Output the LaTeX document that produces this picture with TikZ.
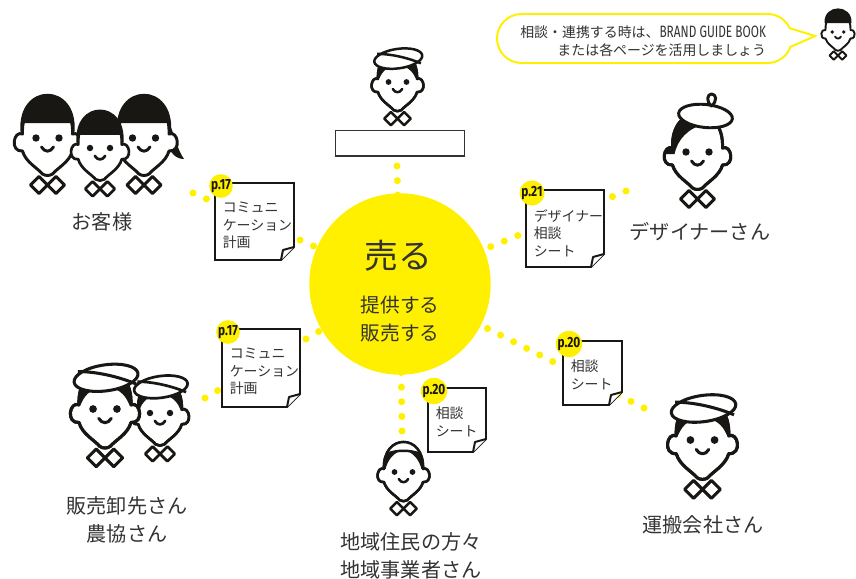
\documentclass[tikz,border=0pt]{standalone}
\usepackage{fontspec}
\setmainfont{Noto Sans CJK JP}
\newfontfamily\condfont[FakeStretch=0.72]{Fira Sans}
\newfontfamily\pagefont[FakeStretch=0.8]{Fira Sans}
\usetikzlibrary{backgrounds}
\definecolor{sunyellow}{rgb}{1.0, 0.94, 0.0}
\definecolor{ink}{rgb}{0.2, 0.2, 0.2}
\definecolor{faceink}{rgb}{0.1, 0.09, 0.08}

\tikzset{
  spoke/.style={draw=sunyellow, line width=5pt, line cap=round, dash pattern=on 0pt off 10.4pt},
  who/.style={text=ink, align=center, font=\fontsize{14.3}{20}\selectfont},
  memoline/.style={draw=faceink, fill=white, line width=1.4pt},
  memotext/.style={anchor=north west, inner sep=0pt, text=ink, align=left, font=\fontsize{9.9}{12.4}\selectfont},
  badge/.style={circle, fill=sunyellow, minimum size=16.3pt, inner sep=0pt, text=faceink, font=\pagefont\bfseries\fontsize{10.5}{10.5}\selectfont},
  person/.style={scale=#1, transform shape, line width={0.6pt+1.5pt*#1}, color=faceink, line join=round},
  headshape/.style={insert path={(-25,-4) .. controls (-27,-50) and (27,-50) .. (25,-4)
      .. controls (34,-8) and (38,14) .. (25,13)
      .. controls (22,24) and (10,30) .. (5,36)
      .. controls (2,38) and (-2,38) .. (-5,36)
      .. controls (-10,30) and (-22,24) .. (-25,13)
      .. controls (-38,14) and (-34,-8) .. (-25,-4) -- cycle}},
  % bare head: collar, outline, eyes, smile
  face/.pic={
    \filldraw[fill=white] (-8.5,38.5) -- (0,47) -- (-8.5,55.5) -- (-17,47) -- cycle
                          (8.5,38.5) -- (17,47) -- (8.5,55.5) -- (0,47) -- cycle;
    \filldraw[fill=white, headshape];
    \fill (-11.5,0) circle[radius=3.7] (11.5,0) circle[radius=3.7];
    \draw[line cap=round] (-6,9) .. controls (-3,14.5) and (3,14.5) .. (6,9);
  },
  girl/.pic={
    \pic{face};
    \fill (-27,-6) .. controls (-31,-57) and (31,-57) .. (27,-6) -- (23,-15) -- (-23,-15) -- cycle;
  },
  girl tail/.pic={
    \fill (20,-24) .. controls (30,-10) and (31,8) .. (40,21) .. controls (32,21) and (26,15) .. (24,6) -- cycle;
    \pic{girl};
  },
  boy/.pic={
    \pic{face};
    \begin{scope}
      \clip[headshape];
      \fill (-40,-5) -- (-23,-5) .. controls (-19,-15) and (-11,-21) .. (0,-21)
        .. controls (11,-21) and (19,-15) .. (23,-5) -- (40,-5) -- (40,-60) -- (-40,-60) -- cycle;
    \end{scope}
    \draw[headshape];
    \filldraw[fill=white] (1,-30) ellipse[x radius=31, y radius=12.5, rotate=8];
    \draw (-26,-36) .. controls (-6,-36) and (16,-30) .. (30,-24);
  },
  beret/.pic={
    \pic{face};
    \begin{scope}
      \clip[headshape];
      \fill (-40,-60) -- (-40,2) -- (-23,2) .. controls (-20,-12) and (-10,-24) .. (8,-28) -- (8,-60) -- cycle;
    \end{scope}
    \draw[headshape];
    \filldraw[fill=white] (8,-36) ellipse[x radius=27, y radius=11.5, rotate=-6];
    \filldraw[fill=white] (14,-46) .. controls (8,-51) and (10,-58) .. (14,-58)
      .. controls (19,-58) and (20,-51) .. (14,-46) -- cycle;
  },
  beanie/.pic={
    \pic{face};
    \fill (-27,-18) .. controls (-29,-57) and (29,-57) .. (27,-18) -- cycle;
  },
  band/.pic={
    \pic{face};
    \begin{scope}
      \clip[headshape];
      \fill (-40,-4) -- (-23,-4) .. controls (-20,-16) and (-12,-26) .. (0,-28)
        .. controls (12,-26) and (20,-16) .. (23,-4) -- (40,-4) -- (40,-60) -- (-40,-60) -- cycle;
      \filldraw[fill=white] (-40,-60) -- (-40,-19) -- (-30,-19) .. controls (-12,-30) and (12,-30) .. (30,-19)
        -- (40,-19) -- (40,-60) -- cycle;
    \end{scope}
    \draw[headshape];
  }
}

% sticky note: name, x, y, width, height, page, text
\newcommand\memo[7]{%
  \filldraw[memoline] (#2,#3) -- (#2+#4,#3) -- (#2+#4,#3+#5-13) -- (#2+#4-13,#3+#5) -- (#2,#3+#5) -- cycle;
  \filldraw[memoline, line join=round] (#2+#4-13,#3+#5) .. controls (#2+#4-12,#3+#5-5) .. (#2+#4-11,#3+#5-10)
    .. controls (#2+#4-6,#3+#5-11) .. (#2+#4,#3+#5-13);
  \node[badge] (#1p) at (#2+6,#3+3) {p.#6};
  \node[memotext] (#1) at (#2+7.5,#3+19) {#7};
}

\begin{document}
\begin{tikzpicture}[x=0.025cm, y=-0.025cm]
  \useasboundingbox (0,0) rectangle (856,579);

  % hub
  \node[circle, fill=sunyellow, minimum size=129pt, inner sep=0pt] (sell) at (400,284) {};
  \node[text=ink, font=\fontsize{24}{24}\selectfont] (sellword) at (398,256) {売る};
  \node[text=ink, align=center, font=\fontsize{14}{19.8}\selectfont] (sellverbs) at (400,319) {提供する\\販売する};

  % dotted spokes, ends next to each person
  \coordinate (guestEnd) at (193,193);
  \coordinate (designEnd) at (626,191);
  \coordinate (saleEnd) at (205,398);
  \coordinate (carryEnd) at (644,408);
  \coordinate (localEnd) at (402,431);
  \coordinate (staffEnd) at (397,166);
  \begin{scope}[on background layer]
    \foreach \e in {guestEnd,designEnd,saleEnd,carryEnd,localEnd,staffEnd}
      \draw[spoke] (\e) -- (sell.center);
  \end{scope}

  % notes
  \memo{guestmemo}{215}{183}{79}{77}{17}{コミュニ\\ケーション\\計画}
  \memo{designmemo}{526}{190}{78}{77}{21}{デザイナー\\相談\\シート}
  \memo{salememo}{222}{329}{78}{78}{17}{コミュニ\\ケーション\\計画}
  \memo{localmemo}{428}{388}{58}{64}{20}{相談\\シート}
  \memo{carrymemo}{563}{341}{59}{64}{20}{相談\\シート}

  % people
  \pic[person=1.0] (girlA) at (47.5,138) {girl};
  \pic[person=1.0] (girlC) at (144,138) {girl tail};
  \pic[person=0.87] (girlB) at (100,148) {girl};
  \pic[person=0.78] (staff) at (397.5,82) {boy};
  \pic[person=1.0] (dsgn) at (697.5,152) {beret};
  \pic[person=0.87] (saleB) at (160,413) {boy};
  \pic[person=1.04] (saleA) at (105,409) {boy};
  \pic[person=0.78] (local) at (403.5,472) {band};
  \pic[person=1.05] (carry) at (702.5,440) {boy};
  \pic[person=0.5] (mini) at (838,32) {beanie};

  \node[draw=ink, line width=0.8pt, fill=white, minimum width=92.1pt, minimum height=18.4pt, inner sep=0pt] (plate) at (400,143) {};

  \node[who] (guest) at (102,222) {お客様};
  \node[who] (designer) at (700,232) {デザイナーさん};
  \node[who] (wholesale) at (127,520) {販売卸先さん\\農協さん};
  \node[who] (locals) at (411,556) {地域住民の方々\\地域事業者さん};
  \node[who] (carrier) at (703,525) {運搬会社さん};

  % speech bubble
  \filldraw[draw=sunyellow, fill=white, line width=1.4pt] (521.5,14) -- (767.5,14)
    arc[start angle=270, end angle=335, radius=24.5] -- (815,36) -- (790.5,46.9)
    arc[start angle=20, end angle=90, radius=24.5] -- (521.5,63)
    arc[start angle=90, end angle=270, radius=24.5] -- cycle;
  \node[anchor=east, align=right, text=ink, font=\fontsize{9.9}{12.8}\selectfont] (tip) at (771,41)
    {相談・連携する時は、{\condfont\fontsize{11.7}{12.8}\selectfont BRAND GUIDE BOOK}\\または各ページを活用しましょう};
\end{tikzpicture}
\end{document}
